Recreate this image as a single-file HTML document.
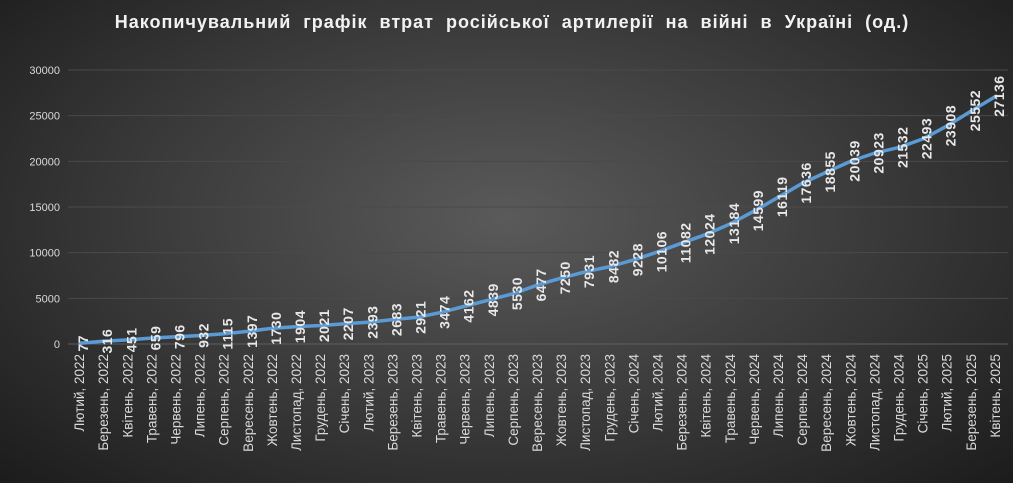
<!DOCTYPE html>
<html><head><meta charset="utf-8"><style>
html,body{margin:0;padding:0;width:1013px;height:483px;overflow:hidden}
body{background:radial-gradient(ellipse 70% 80% at 50% 45%,#5a5a5a 0%,#383838 55%,#1b1b1b 100%);font-family:"Liberation Sans","DejaVu Sans",sans-serif}
</style></head><body>
<svg id="chart" width="1013" height="483" xmlns="http://www.w3.org/2000/svg">
<text x="512" y="28" text-anchor="middle" fill="#f2f2f2" font-size="18" font-weight="bold" letter-spacing="1" word-spacing="6" font-family="Liberation Sans, DejaVu Sans, sans-serif">Накопичувальний графік втрат російської артилерії на війні в Україні (од.)</text>
<g id="grid"></g><g id="yaxis"></g><g id="xaxis"></g><g id="series"></g><g id="labels"></g>
</svg>
<script>
const categories=["Лютий, 2022","Березень, 2022","Квітень, 2022","Травень, 2022","Червень, 2022","Липень, 2022","Серпень, 2022","Вересень, 2022","Жовтень, 2022","Листопад, 2022","Грудень, 2022","Січень, 2023","Лютий, 2023","Березень, 2023","Квітень, 2023","Травень, 2023","Червень, 2023","Липень, 2023","Серпень, 2023","Вересень, 2023","Жовтень, 2023","Листопад, 2023","Грудень, 2023","Січень, 2024","Лютий, 2024","Березень, 2024","Квітень, 2024","Травень, 2024","Червень, 2024","Липень, 2024","Серпень, 2024","Вересень, 2024","Жовтень, 2024","Листопад, 2024","Грудень, 2024","Січень, 2025","Лютий, 2025","Березень, 2025","Квітень, 2025"];
const values=[77,316,451,659,796,932,1115,1397,1730,1904,2021,2207,2393,2683,2921,3474,4162,4839,5530,6477,7250,7931,8482,9228,10106,11082,12024,13184,14599,16119,17636,18855,20039,20923,21532,22493,23908,25552,27136];
const yTicks=[0,5000,10000,15000,20000,25000,30000];
const NS="http://www.w3.org/2000/svg";
const x0=68,x1=1008,yBase=344,yTop=70,yMax=30000;
const step=(x1-x0)/categories.length;
function xs(i){return x0+step*(i+0.5);}
function ys(v){return yBase-(v/yMax)*(yBase-yTop);}
function mk(t,a,p){const e=document.createElementNS(NS,t);for(const k in a)e.setAttribute(k,a[k]);p.appendChild(e);return e;}
const grid=document.getElementById('grid'),ya=document.getElementById('yaxis'),xa=document.getElementById('xaxis'),se=document.getElementById('series'),lb=document.getElementById('labels');
yTicks.forEach(t=>{
  const l=mk('line',{x1:x0,x2:x1,y1:ys(t),y2:ys(t),stroke:t===0?'#5e5e5e':'#4a4a4a',"stroke-width":1},grid);
  
  
  const tx=mk('text',{x:60,y:ys(t)+4,"text-anchor":"end",fill:"#d9d9d9","font-size":11},ya);
  tx.textContent=t;
  
  
});
categories.forEach((c,i)=>{
  const x=xs(i);
  const tx=mk('text',{x:0,y:0,"text-anchor":"end",fill:"#d9d9d9","font-size":13.5,transform:`translate(${x+4},${354}) rotate(-90)`},xa);
  tx.textContent=c;
  
  
});
const pts=values.map((v,i)=>xs(i).toFixed(1)+','+ys(v).toFixed(1)).join(' ');
const pl=mk('polyline',{points:pts,fill:"none",stroke:"#5b9bd5","stroke-width":3.5,"stroke-linejoin":"round","stroke-linecap":"round"},se);


values.forEach((v,i)=>{
  const tx=mk('text',{x:0,y:0,"text-anchor":"middle",fill:"#e8e8e8","font-size":14,"font-weight":"bold","letter-spacing":"0.5",transform:`translate(${xs(i)+8},${ys(v)}) rotate(-90)`},lb);
  tx.textContent=v;
  
  
});
</script>
</body></html>
